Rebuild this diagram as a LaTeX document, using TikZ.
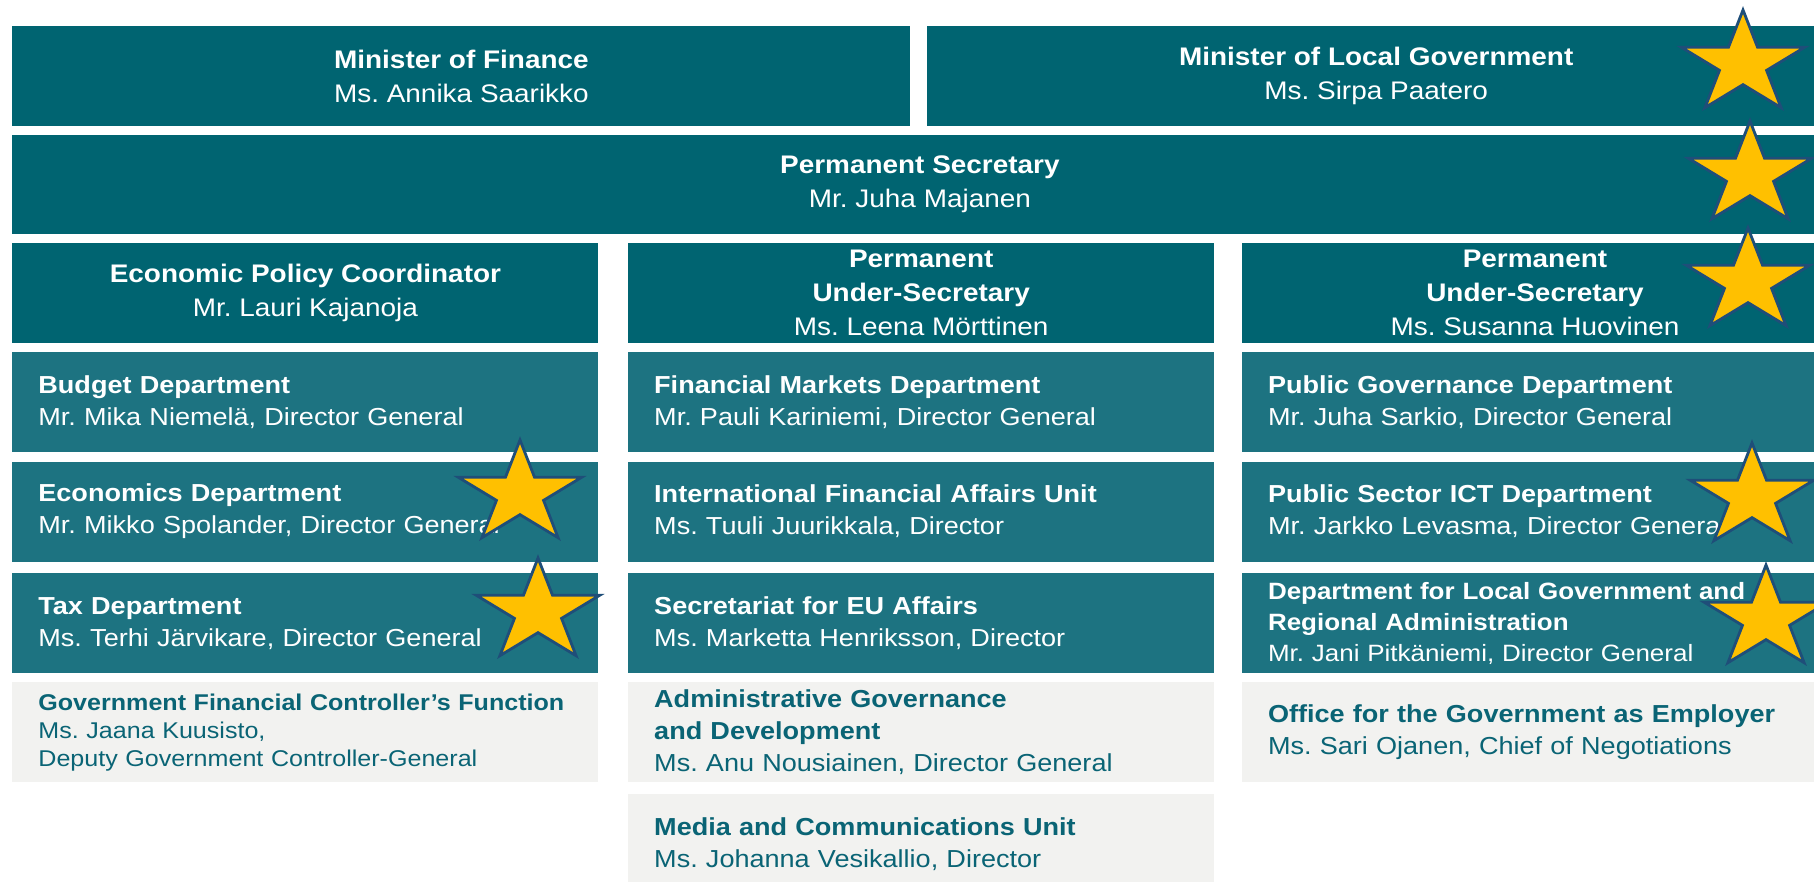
\documentclass[tikz,border=0pt]{standalone}
\usepackage{fontspec}
\setmainfont{Liberation Sans}[FakeStretch=1.1]
\usepackage{xcolor}
\usepackage{tikz}
\usetikzlibrary{positioning,shapes.geometric}
\frenchspacing

\definecolor{headteal}{HTML}{006471}
\definecolor{deptteal}{HTML}{1D7381}
\definecolor{unitgrey}{HTML}{F2F2F0}
\definecolor{unittext}{HTML}{0A6475}
\definecolor{stargold}{HTML}{FFC000}
\definecolor{starblue}{HTML}{1F4E79}

\newcommand\headfont{\fontsize{12.7}{17}\selectfont}
\newcommand\deptfont{\fontsize{12.3}{16}\selectfont}
\newcommand\smallunitfont{\fontsize{11.4}{14}\selectfont}

\tikzset{
  head/.style={rectangle,fill=headteal,text=white,minimum height=50pt,inner sep=0pt,align=center,font=\headfont},
  dept/.style={rectangle,fill=deptteal,text=white,minimum width=293pt,minimum height=50pt,inner xsep=13pt,inner ysep=0pt,text width=267pt,align=left,font=\deptfont},
  unit/.style={dept,fill=unitgrey,text=unittext},
  award/.style={star,star points=5,star point ratio=2.618,minimum size=54pt,inner sep=0pt,fill=stargold,draw=starblue,line width=1.4pt,transform shape}
}

\begin{document}
\begin{tikzpicture}[x=0.5pt,y=-0.5pt]
\clip (0,0) rectangle (1814,882);

% Ministers
\node[head,minimum width=449pt,anchor=north west] (mof) at (12,26) {\textbf{Minister of Finance}\\Ms. Annika Saarikko};
\node[head,minimum width=449pt,right=8pt of mof] (mlg) {\textbf{Minister of Local Government}\\Ms. Sirpa Paatero};
\node[head,minimum width=907.5pt,minimum height=49.5pt,below=4pt of mof.south west,anchor=north west] (ps) {\textbf{Permanent Secretary}\\Mr. Juha Majanen};

% Heads of the three columns
\node[head,minimum width=293pt,below=4pt of ps.south west,anchor=north west] (epc) {\textbf{Economic Policy Coordinator}\\Mr. Lauri Kajanoja};
\node[head,minimum width=293pt,right=14.5pt of epc] (pus1) {\textbf{Permanent}\\\textbf{Under-Secretary}\\Ms. Leena Mörttinen};
\node[head,minimum width=293pt,right=13.5pt of pus1] (pus2) {\textbf{Permanent}\\\textbf{Under-Secretary}\\Ms. Susanna Huovinen};

% Left column
\node[dept,below=4pt of epc] (budget) {\textbf{Budget Department}\\Mr. Mika Niemelä, Director General};
\node[dept,below=4.5pt of budget] (econ) {\textbf{Economics Department}\\Mr. Mikko Spolander, Director General};
\node[dept,below=5.5pt of econ] (tax) {\textbf{Tax Department}\\Ms. Terhi Järvikare, Director General};
\node[unit,font=\smallunitfont,below=4pt of tax] (gfc) {\textbf{Government Financial Controller’s Function}\\Ms. Jaana Kuusisto,\\Deputy Government Controller-General};

% Middle column
\node[dept,below=4pt of pus1] (finmkt) {\textbf{Financial Markets Department}\\Mr. Pauli Kariniemi, Director General};
\node[dept,below=4.5pt of finmkt] (ifa) {\textbf{International Financial Affairs Unit}\\Ms. Tuuli Juurikkala, Director};
\node[dept,below=5.5pt of ifa] (eusec) {\textbf{Secretariat for EU Affairs}\\Ms. Marketta Henriksson, Director};
\node[unit,below=4pt of eusec] (admin) {\textbf{Administrative Governance}\\\textbf{and Development}\\Ms. Anu Nousiainen, Director General};
\node[unit,below=5.5pt of admin] (media) {\textbf{Media and Communications Unit}\\Ms. Johanna Vesikallio, Director};

% Right column
\node[dept,below=4pt of pus2] (pgd) {\textbf{Public Governance Department}\\Mr. Juha Sarkio, Director General};
\node[dept,below=4.5pt of pgd] (ict) {\textbf{Public Sector ICT Department}\\Mr. Jarkko Levasma, Director General};
\node[dept,font=\fontsize{11.8}{15.5}\selectfont,below=5.5pt of ict] (dlg) {\textbf{Department for Local Government and}\\\textbf{Regional Administration}\\Mr. Jani Pitkäniemi, Director General};
\node[unit,below=4pt of dlg] (employer) {\textbf{Office for the Government as Employer}\\Ms. Sari Ojanen, Chief of Negotiations};

% Stars
\foreach \sx/\sy [count=\k] in {1743/64,1750/175,1748/282,1752/497,1766/619,520/494,538/612}{
  \begin{scope}[shift={(\sx,\sy)},xscale=1.2]
    \node[award] (star\k) at (0,0) {};
  \end{scope}
}
\end{tikzpicture}
\end{document}
